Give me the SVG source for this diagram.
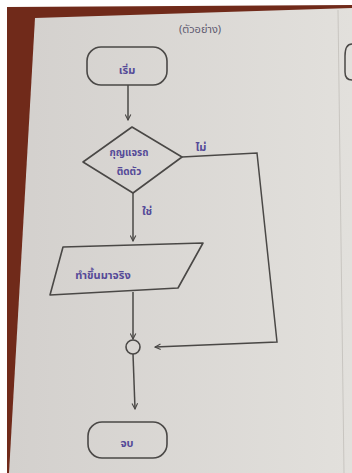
<svg xmlns="http://www.w3.org/2000/svg" width="352" height="473" viewBox="0 0 352 473">
<style>
.shape{fill:none;stroke:#4a4846;stroke-width:1.6;stroke-linejoin:round}
.conn{fill:none;stroke:#4a4846;stroke-width:1.5}
.txt{font-family:"Noto Sans Thai","Noto Sans","DejaVu Sans",sans-serif;font-size:11px;font-weight:bold;fill:#554a98;text-anchor:middle}
.dtx{font-size:10px}
.ttl{font-family:"Noto Sans Thai","Noto Sans","DejaVu Sans",sans-serif;font-size:11px;fill:#5e5a70;text-anchor:middle}
</style>
<defs>
<linearGradient id="paper" x1="0" y1="0" x2="1" y2="0">
<stop offset="0" stop-color="#d3d0cd"/>
<stop offset="1" stop-color="#e2e0dc"/>
</linearGradient>
<marker id="ah" viewBox="0 0 10 10" refX="9" refY="5" markerWidth="7" markerHeight="7" orient="auto" markerUnits="userSpaceOnUse">
<polyline points="1,1 9,5 1,9" fill="none" stroke="#4a4846" stroke-width="1.6"/>
</marker>
</defs>
<rect x="0" y="0" width="352" height="473" fill="#ffffff"/>
<polygon points="7,7 352,5 352,473 7,473" fill="#702a1a"/>
<polygon points="35,18 352,8 352,473 9,473" fill="url(#paper)"/>
<line x1="338" y1="10" x2="344" y2="473" stroke="#c8c5c0" stroke-width="1"/>
<path d="M352,44 Q345,44 345,56 L345,72 Q345,80 352,80" fill="none" stroke="#4a4846" stroke-width="1.5"/>
<text class="ttl" x="200" y="33">(ตัวอย่าง)</text>
<g id="connectors">
<line class="conn" x1="128" y1="85" x2="128" y2="120" marker-end="url(#ah)"/>
<line class="conn" x1="133" y1="193" x2="133" y2="241" marker-end="url(#ah)"/>
<polyline class="conn" points="182,157 257,153 277,342 155,347" marker-end="url(#ah)"/>
<line class="conn" x1="133" y1="292" x2="133" y2="339" marker-end="url(#ah)"/>
<line class="conn" x1="133" y1="354" x2="135" y2="409" marker-end="url(#ah)"/>
<text class="txt" x="201" y="151">ไม่</text>
<text class="txt" x="147" y="215">ใช่</text>
</g>
<g id="start">
<rect class="shape" x="87" y="47" width="80" height="38" rx="14"/>
<text class="txt" x="127" y="74">เริ่ม</text>
</g>
<g id="decision">
<polygon class="shape" points="132,127 182,157 133,193 83,162"/>
<text class="txt dtx" x="129" y="156">กุญแจรถ</text>
<text class="txt dtx" x="129" y="175">ติดตัว</text>
</g>
<g id="output">
<polygon class="shape" points="63,247 203,243 178,288 50,295"/>
<text class="txt" x="103" y="279">ทำขึ้นมาจริง</text>
</g>
<g id="connector-circle">
<circle class="shape" cx="133" cy="347" r="7"/>
</g>
<g id="end">
<rect class="shape" x="88" y="422" width="79" height="36" rx="14"/>
<text class="txt" x="127" y="447">จบ</text>
</g>
</svg>
